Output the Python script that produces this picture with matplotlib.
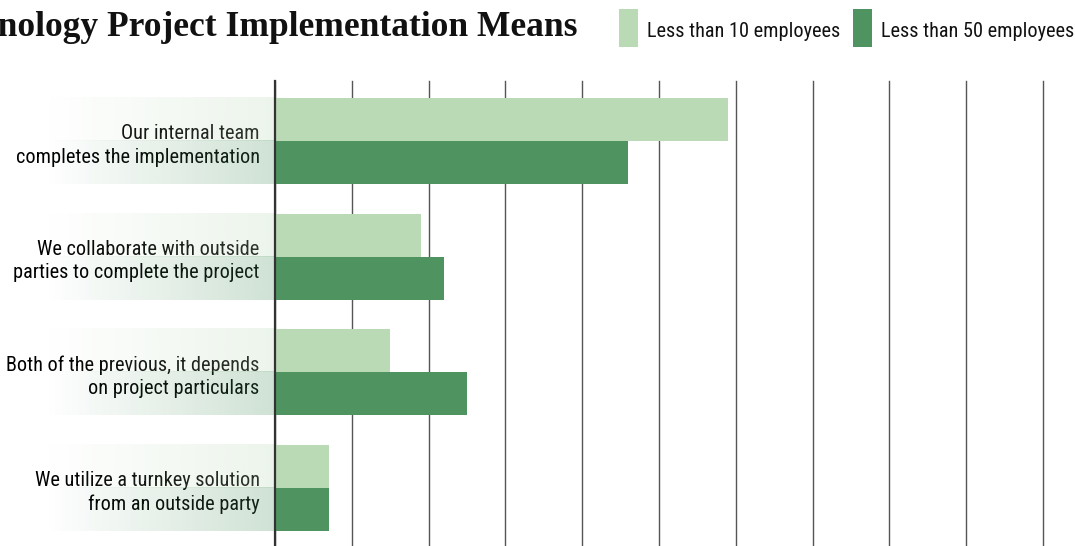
import numpy as np
import matplotlib
matplotlib.use("Agg")
import matplotlib.pyplot as plt
from matplotlib import font_manager
from matplotlib.patches import Rectangle
from matplotlib.colors import to_rgb

# survey answers and shares (%)
categories = [
    "Our internal team\ncompletes the implementation",
    "We collaborate with outside\nparties to complete the project",
    "Both of the previous, it depends\non project particulars",
    "We utilize a turnkey solution\nfrom an outside party",
]
small_co = [29.5, 9.5, 7.5, 3.5]    # less than 10 employees
mid_co = [23, 11, 12.5, 3.5]        # less than 50 employees
series_names = ["Less than 10 employees", "Less than 50 employees"]
title = "Technology Project Implementation Means"

light = "#bad9b5"
dark = "#4e9360"


def narrow_font():
    # look for any narrow / condensed regular sans that is installed
    fl = font_manager.fontManager.ttflist
    for fam in ["Roboto Condensed", "Liberation Sans Narrow", "Open Sans Condensed",
                "Noto Sans Condensed", "Arimo Narrow"]:
        if any(f.name == fam for f in fl):
            return font_manager.FontProperties(family=fam, size=14.6)
    for key in ["Roboto", "NotoSans", "OpenSans", "Lato", "Inter"]:
        for f in fl:
            fn = f.fname.split("/")[-1]
            if fn.startswith(key) and "Condensed" in fn and "Semi" not in fn \
                    and fn.split("-")[-1].split(".")[0] in ("Condensed", "CondensedRegular", "Regular"):
                return font_manager.FontProperties(fname=f.fname, size=14.6)
    for f in fl:
        fn = f.fname.split("/")[-1]
        if fn == "DejaVuSansCondensed.ttf":
            return font_manager.FontProperties(fname=f.fname, size=12.3)
    return font_manager.FontProperties(family="DejaVu Sans", size=11)


lab_font = narrow_font()

W, H = 1075, 546
fig = plt.figure(figsize=(W / 100, H / 100), dpi=100)
ax = fig.add_axes([275 / W, 0, (1043 - 275) / W, 1 - 81 / H])
ax.patch.set_alpha(0)

y = np.arange(len(categories))
bh = 0.372
ax.barh(y - bh / 2, small_co, height=bh, color=light, zorder=2)
ax.barh(y + bh / 2, mid_co, height=bh, color=dark, zorder=2)

ax.set_xticks(np.arange(0, 55, 5))
ax.xaxis.grid(True, color="#555555", linewidth=1.0, zorder=0)
for gl in ax.get_xgridlines():
    gl.set_clip_on(False)
ax.set_axisbelow(True)
ax.tick_params(axis="both", length=0, labelbottom=False)
ax.set_yticks(y)
ax.set_yticklabels(categories, fontproperties=lab_font, linespacing=1.3)
ax.tick_params(axis="y", pad=11)
for s in ["top", "right", "bottom"]:
    ax.spines[s].set_visible(False)
ax.spines["left"].set_color("#333333")
ax.spines["left"].set_linewidth(1.6)
ax.spines["left"].set_zorder(5)

# faded colour strip behind each label
px = 50 / 768
x0 = -(275 - 45) * px
ramp = np.linspace(0, 0.27, 256)
for c, off in [(light, -bh), (dark, 0)]:
    img = np.zeros((1, 256, 4))
    img[..., :3] = to_rgb(c)
    img[..., 3] = ramp
    for yi in y:
        ax.imshow(img, extent=[x0, 0, yi + off + bh, yi + off], aspect="auto",
                  clip_on=False, zorder=1, interpolation="bilinear")
ax.set_xlim(0, 50)
ax.set_ylim(3.501, -0.519)

fig.text(578 / W, 1 - 36 / H, title, ha="right", va="baseline",
         family="Liberation Serif", weight="bold", fontsize=25.5, color="#111111")

# legend
for x_sq, c, name in [(619, light, series_names[0]), (853, dark, series_names[1])]:
    fig.add_artist(Rectangle((x_sq / W, 1 - 47 / H), 19 / W, 38 / H,
                             transform=fig.transFigure, color=c, lw=0))
    fig.text((x_sq + 28) / W, 1 - 37 / H, name, ha="left", va="baseline",
             fontproperties=lab_font, color="#111111")

fig.savefig("out.png", dpi=100)
